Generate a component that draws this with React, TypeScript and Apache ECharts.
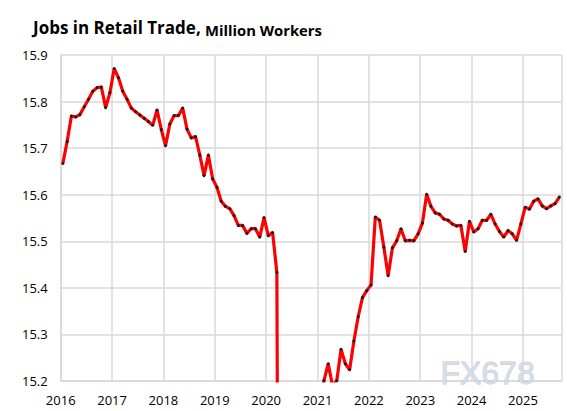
import React, { useEffect, useRef } from "react";
import * as echarts from "echarts";

const startYear = 2016;
const y2016 = [15.667, 15.714, 15.769, 15.767, 15.772, 15.789, 15.805, 15.822, 15.830, 15.831, 15.787, 15.819];
const y2017 = [15.871, 15.851, 15.822, 15.805, 15.786, 15.778, 15.771, 15.764, 15.757, 15.749, 15.782, 15.740];
const y2018 = [15.705, 15.752, 15.770, 15.770, 15.786, 15.741, 15.722, 15.725, 15.685, 15.641, 15.685, 15.634];
const y2019 = [15.616, 15.586, 15.575, 15.570, 15.555, 15.534, 15.534, 15.517, 15.527, 15.527, 15.509, 15.551];
const y2020 = [15.512, 15.519, 15.433, 13.1, 13.6, 14.3, 14.6, 14.7, 14.85, 14.95, 14.95, 15.0];
const y2021 = [15.12, 15.201, 15.237, 15.19, 15.201, 15.268, 15.237, 15.224, 15.286, 15.338, 15.379, 15.394];
const y2022 = [15.406, 15.552, 15.545, 15.487, 15.426, 15.486, 15.501, 15.527, 15.501, 15.502, 15.501, 15.516];
const y2023 = [15.539, 15.601, 15.575, 15.561, 15.558, 15.548, 15.545, 15.537, 15.533, 15.534, 15.478, 15.543];
const y2024 = [15.520, 15.527, 15.545, 15.545, 15.558, 15.537, 15.521, 15.509, 15.523, 15.516, 15.502, 15.537];
const y2025 = [15.573, 15.569, 15.586, 15.591, 15.576, 15.570, 15.576, 15.581, 15.595];

const years = [y2016, y2017, y2018, y2019, y2020, y2021, y2022, y2023, y2024, y2025];
const yTicks = [15.2, 15.3, 15.4, 15.5, 15.6, 15.7, 15.8, 15.9];
const xTicks = [2016, 2017, 2018, 2019, 2020, 2021, 2022, 2023, 2024, 2025];

export default function App() {
  const ref = useRef<HTMLDivElement>(null);
  useEffect(() => {
    document.body.style.margin = "0";
    const chart = echarts.init(ref.current!, null, { renderer: "svg" });
    const data: number[][] = [];
    years.forEach((arr, yi) => {
      arr.forEach((v, mi) => {
        // mid-month position on a decimal-year axis
        data.push([startYear + yi + (mi + 0.5) / 12, v]);
      });
    });
    const grid = "#d9d9d9";
    chart.setOption({
      animation: false,
      backgroundColor: "#ffffff",
      grid: { left: 60.7, right: 5.5, top: 55, bottom: 30, containLabel: false },
      xAxis: {
        type: "value",
        min: xTicks[0],
        max: 2025.75,
        interval: 1,
        axisLine: { show: true, lineStyle: { color: grid, width: 1.5 } },
        axisTick: { show: false },
        splitLine: { show: true, lineStyle: { color: grid, width: 1.5 } },
        axisLabel: {
          margin: 12,
          color: "#000",
          fontFamily: "Open Sans",
          fontSize: 13,
          showMaxLabel: false,
          formatter: (v: number) => (xTicks.includes(Math.round(v)) ? String(Math.round(v)) : ""),
        },
      },
      yAxis: {
        type: "value",
        min: yTicks[0],
        max: yTicks[yTicks.length - 1],
        interval: 0.1,
        axisLine: { show: true, lineStyle: { color: grid, width: 1.5 } },
        axisTick: { show: false },
        splitLine: { show: true, lineStyle: { color: grid, width: 1.5 } },
        axisLabel: {
          margin: 13,
          color: "#000",
          fontFamily: "Open Sans",
          fontSize: 13,
          formatter: (v: number) => v.toFixed(1),
        },
      },
      graphic: [
        {
          type: "text",
          left: 33,
          top: 19,
          z: 10,
          style: {
            text: "Jobs in Retail Trade,",
            fill: "#000",
            font: "bold 17px 'Open Sans'",
          },
        },
        {
          type: "text",
          left: 205,
          top: 22,
          z: 10,
          style: {
            text: "Million Workers",
            fill: "#000",
            font: "bold 14.8px 'Open Sans'",
          },
        },
        {
          type: "text",
          left: 440,
          top: 357,
          z: 10,
          style: {
            text: "FX678",
            fill: "#d2dfef",
            font: "32px 'Liberation Sans'",
            stroke: "rgba(160,135,110,0.55)",
            lineWidth: 0.8,
          },
        },
      ],
      series: [
        {
          type: "line",
          data,
          clip: true,
          showAllSymbol: true,
          symbol: "circle",
          symbolSize: 3,
          itemStyle: { color: "#1a1a1a", borderWidth: 0 },
          lineStyle: { color: "#ff0000", width: 3.2 },
          emphasis: { disabled: true },
          z: 3,
        },
      ],
    });
    return () => chart.dispose();
  }, []);
  return (
    <div
      ref={ref}
      style={{ position: "fixed", left: 0, top: 0, width: 567, height: 411 }}
    />
  );
}
